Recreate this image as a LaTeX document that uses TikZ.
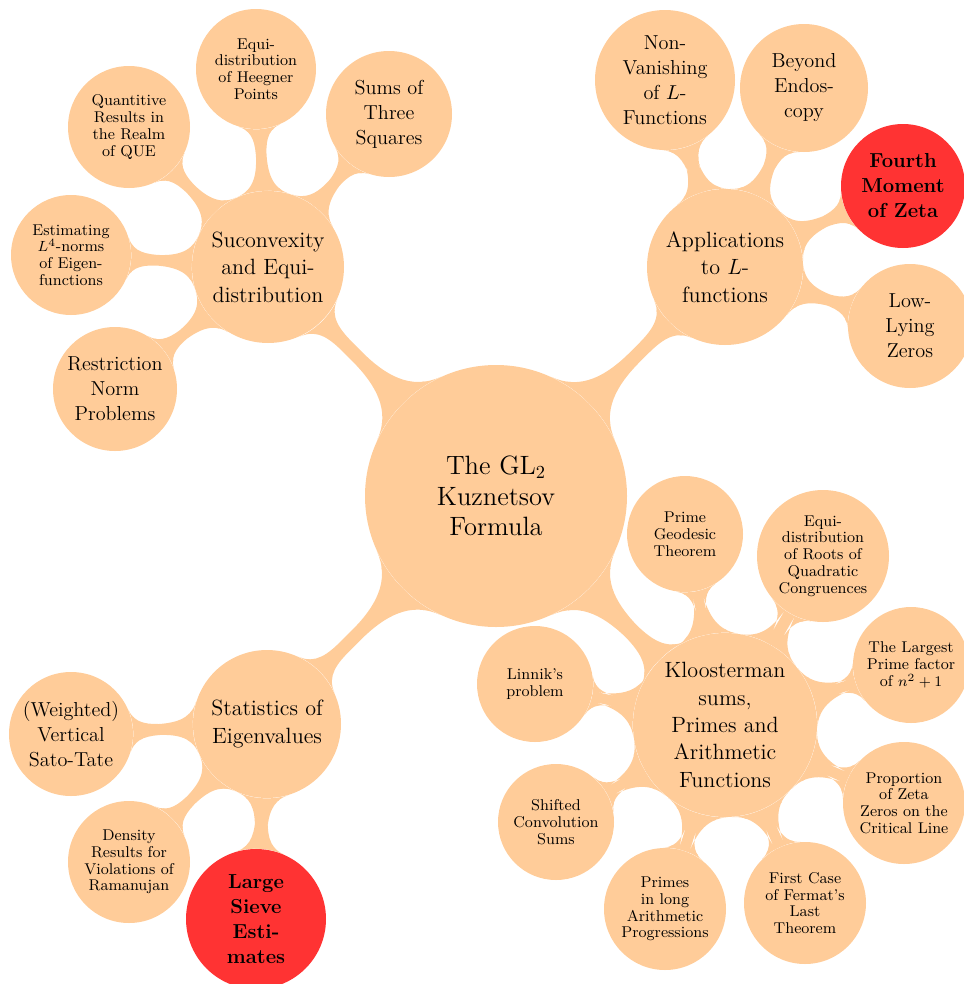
\documentclass[tikz,border=0pt]{standalone}
\usetikzlibrary{mindmap,backgrounds}
\definecolor{peach}{RGB}{255,204,153}
\definecolor{hot}{RGB}{255,51,51}
\begin{document}
\begin{tikzpicture}[x=0.5435pt,y=-0.5435pt,
  cnode/.style={circle, fill=peach, inner sep=0pt, align=center, text=black, minimum size=#1*1.087pt},
  hotnode/.style={cnode=#1, fill=hot},
  rootfont/.style={font=\fontsize{14.4}{16.8}\selectfont},
  lonefont/.style={font=\fontsize{12}{14.9}\selectfont},
  ltwofont/.style={font=\fontsize{11}{13.6}\selectfont},
  boldfont/.style={font=\fontsize{11}{13.6}\selectfont\bfseries},
  smallfont/.style={font=\fontsize{8.5}{9.1}\selectfont},
  bar/.style={circle connection bar switch color=from (peach) to (peach)}
]
\useasboundingbox (0,0) rectangle (963,984);
% root
\node[cnode=131, rootfont] (root) at (496,496) {The $\mathrm{GL}_2$\\Kuznetsov\\Formula};
% level 1
\node[cnode=76, lonefont] (A) at (268,267) {Suconvexity\\and Equi-\\distribution};
\node[cnode=78, lonefont] (B) at (725,267) {Applications\\to $L$-\\functions};
\node[cnode=74, lonefont] (C) at (267,724) {Statistics of\\Eigenvalues};
\node[cnode=92, lonefont] (D) at (725,725) {Kloosterman\\sums,\\Primes and\\Arithmetic\\Functions};
% level 2 of A
\node[cnode=63, ltwofont] (A1) at (389,114) {Sums of\\Three\\Squares};
\node[cnode=60, smallfont] (A2) at (256,69) {Equi-\\distribution\\of Heegner\\Points};
\node[cnode=61, smallfont] (A3) at (129,127) {Quantitive\\Results in\\the Realm\\of QUE};
\node[cnode=60, smallfont] (A4) at (71,255) {Estimating\\$L^4$-norms\\of Eigen-\\functions};
\node[cnode=62, ltwofont] (A5) at (115,389) {Restriction\\Norm\\Problems};
% level 2 of B
\node[cnode=70, ltwofont] (B1) at (665,80) {Non-\\Vanishing\\of $L$-\\Functions};
\node[cnode=64, ltwofont] (B2) at (804,88) {Beyond\\Endos-\\copy};
\node[hotnode=62, boldfont] (B3) at (903,186) {Fourth\\Moment\\of Zeta};
\node[cnode=62, ltwofont] (B4) at (910,326) {Low-\\Lying\\Zeros};
% level 2 of C
\node[cnode=62, ltwofont] (C1) at (71,734) {(Weighted)\\Vertical\\Sato-Tate};
\node[cnode=61, smallfont] (C2) at (129,862) {Density\\Results for\\Violations of\\Ramanujan};
\node[hotnode=70, boldfont] (C3) at (256,919) {Large\\Sieve\\Esti-\\mates};
% level 2 of D
\node[cnode=58, smallfont] (D1) at (685,534) {Prime\\Geodesic\\Theorem};
\node[cnode=66, smallfont] (D2) at (823,556) {Equi-\\distribution\\of Roots of\\Quadratic\\Congruences};
\node[cnode=58, smallfont] (D3) at (911,665) {The Largest\\Prime factor\\of $n^2+1$};
\node[cnode=61, smallfont] (D4) at (904,803) {Proportion\\of Zeta\\Zeros on the\\Critical Line};
\node[cnode=61, smallfont] (D5) at (805,903) {First Case\\of Fermat's\\Last\\Theorem};
\node[cnode=61, smallfont] (D6) at (665,909) {Primes\\in long\\Arithmetic\\Progressions};
\node[cnode=58, smallfont] (D7) at (556,822) {Shifted\\Convolution\\Sums};
\node[cnode=58, smallfont] (D8) at (535,684) {Linnik's\\problem};
\begin{pgfonlayer}{background}
\foreach \a/\b in {root/A,root/B,root/C,root/D,
  A/A1,A/A2,A/A3,A/A4,A/A5,
  B/B1,B/B2,B/B3,B/B4,
  C/C1,C/C2,C/C3,
  D/D1,D/D2,D/D3,D/D4,D/D5,D/D6,D/D7,D/D8}
  \path (\a) to[bar] (\b);
\end{pgfonlayer}
\end{tikzpicture}
\end{document}
